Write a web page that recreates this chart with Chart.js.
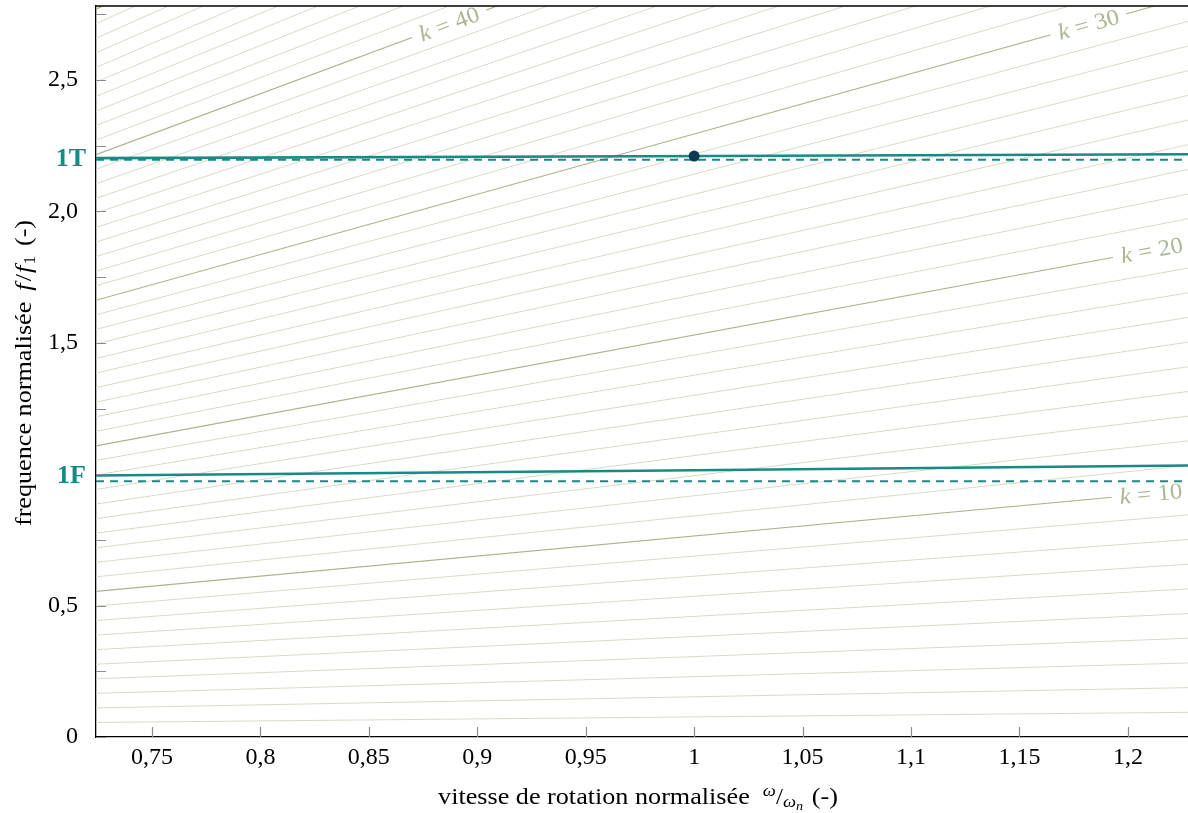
<!DOCTYPE html>
<html>
<head>
<meta charset="utf-8">
<script src="https://cdn.jsdelivr.net/npm/chart.js@4.4.0/dist/chart.umd.min.js"></script>
<style>
html, body { margin: 0; padding: 0; background: #fff; }
</style>
</head>
<body>
<canvas id="myChart" width="1188" height="813"></canvas>
<script>
// axis ranges
var xMin = 0.7242, xMax = 1.2277;
var yMin = 0, yMax = 2.782;

// tick values and labels
var xTicks = [0.75, 0.8, 0.85, 0.9, 0.95, 1, 1.05, 1.1, 1.15, 1.2];
var xTickLabels = ['0,75', '0,8', '0,85', '0,9', '0,95', '1', '1,05', '1,1', '1,15', '1,2'];
var yTicks = [0, 0.25, 0.5, 0.75, 1, 1.25, 1.5, 1.75, 2, 2.25, 2.5, 2.75];
var yTickLabels = ['0', '', '0,5', '', '', '', '1,5', '', '2,0', '', '2,5', ''];

// harmonic orders k (f = slope * k * speed)
var orders = [1, 2, 3, 4, 5, 6, 7, 8, 9, 10, 11, 12, 13, 14, 15, 16, 17, 18, 19, 20,
  21, 22, 23, 24, 25, 26, 27, 28, 29, 30, 31, 32, 33, 34, 35, 36, 37, 38, 39, 40,
  41, 42, 43, 44, 45, 46, 47, 48, 49, 50];
var orderSlope = 0.0765;
var labelledOrders = [10, 20, 30, 40];
var labelSpeed = [1.2106, 1.211, 1.1818, 0.887];

// modes
var speed = [0.7242, 0.976, 1.2277];
var mode1F = [0.995, 1.013, 1.033];
var mode1T = [2.203, 2.210, 2.218];
var rest1F = 0.973;
var rest1T = 2.197;
var opSpeed = [1.0];
var opFreq = [2.211];

var teal = '#178a85';
var serif = '"Liberation Serif", "Times New Roman", serif';

function pts(xs, ys) {
  return xs.map(function (x, i) { return { x: x, y: ys[i] }; });
}

var datasets = [];
datasets.push({
  data: pts(opSpeed, opFreq), showLine: false, pointRadius: 5.5, pointHoverRadius: 5.5,
  pointBackgroundColor: '#0d3a50', pointBorderWidth: 0, order: 0
});
datasets.push({ data: pts(speed, mode1F), showLine: true, borderColor: teal, borderWidth: 2.6, pointRadius: 0, order: 1 });
datasets.push({ data: pts(speed, mode1T), showLine: true, borderColor: teal, borderWidth: 2.6, pointRadius: 0, order: 1 });
datasets.push({ data: pts([xMin, xMax], [rest1F, rest1F]), showLine: true, borderColor: teal, borderWidth: 2, borderDash: [8, 6], pointRadius: 0, order: 1 });
datasets.push({ data: pts([xMin, xMax], [rest1T, rest1T]), showLine: true, borderColor: teal, borderWidth: 2, borderDash: [8, 6], pointRadius: 0, order: 1 });
orders.forEach(function (k) {
  datasets.push({
    data: pts([xMin, xMax], [orderSlope * k * xMin, orderSlope * k * xMax]),
    showLine: true, pointRadius: 0, order: 2,
    borderColor: k % 10 === 0 ? '#a6b58b' : '#d5dcc6',
    borderWidth: k % 10 === 0 ? 1.1 : 1
  });
});

// draw a run of text pieces, stretched a little to look like the LaTeX font
function drawParts(ctx, parts, x, y, sx) {
  ctx.save();
  ctx.translate(x, y);
  ctx.scale(sx, 1);
  var cx = 0;
  parts.forEach(function (p) {
    ctx.font = p.f;
    ctx.fillText(p.t, cx, p.dy || 0);
    cx += ctx.measureText(p.t).width + (p.gap || 0);
  });
  ctx.restore();
}
function partsWidth(ctx, parts, sx) {
  var w = 0;
  parts.forEach(function (p) { ctx.font = p.f; w += ctx.measureText(p.t).width + (p.gap || 0); });
  return w * sx;
}

var decorations = {
  id: 'decorations',
  afterDatasetsDraw: function (chart) {
    var ctx = chart.ctx, area = chart.chartArea;
    var xs = chart.scales.x, ys = chart.scales.y;
    ctx.save();

    // order labels on the lines
    labelledOrders.forEach(function (k, i) {
      var sx = labelSpeed[i];
      var px = xs.getPixelForValue(sx), py = ys.getPixelForValue(orderSlope * k * sx);
      var p2x = xs.getPixelForValue(sx + 0.05), p2y = ys.getPixelForValue(orderSlope * k * (sx + 0.05));
      var ang = Math.atan2(p2y - py, p2x - px);
      var parts = [
        { t: 'k', f: 'italic 23px ' + serif, gap: 6 },
        { t: '=', f: '23px ' + serif, gap: 6 },
        { t: String(k), f: '23px ' + serif }
      ];
      var w = partsWidth(ctx, parts, 1.08);
      ctx.save();
      ctx.translate(px, py);
      ctx.rotate(ang);
      ctx.fillStyle = '#fff';
      ctx.fillRect(-w / 2 - 8, -8, w + 16, 16);
      ctx.fillStyle = '#a9b891';
      ctx.textBaseline = 'alphabetic';
      drawParts(ctx, parts, -w / 2, 7.5, 1.08);
      ctx.restore();
    });

    // inner tick marks
    ctx.strokeStyle = '#8c8c8c';
    ctx.lineWidth = 1.2;
    ctx.beginPath();
    xTicks.forEach(function (v) {
      var p = Math.round(xs.getPixelForValue(v)) + 0.5;
      ctx.moveTo(p, area.bottom); ctx.lineTo(p, area.bottom - 10);
    });
    yTicks.forEach(function (v) {
      var p = Math.round(ys.getPixelForValue(v)) + 0.5;
      ctx.moveTo(area.left, p); ctx.lineTo(area.left + 10, p);
    });
    ctx.stroke();

    // frame top
    ctx.strokeStyle = '#000';
    ctx.lineWidth = 1.3;
    ctx.beginPath();
    ctx.moveTo(area.left, area.top); ctx.lineTo(area.right, area.top);
    ctx.stroke();

    // mode names
    ctx.fillStyle = teal;
    ctx.font = 'bold 26px ' + serif;
    ctx.textAlign = 'right';
    ctx.textBaseline = 'middle';
    ctx.fillText('1T', area.left - 10, ys.getPixelForValue(mode1T[0]) + 1);
    ctx.fillText('1F', area.left - 10, ys.getPixelForValue(mode1F[0]) + 1);

    // axis titles
    ctx.fillStyle = '#000';
    ctx.textAlign = 'left';
    ctx.textBaseline = 'alphabetic';
    var xt = [
      { t: 'vitesse de rotation normalisée', f: '24px ' + serif, gap: 12 },
      { t: 'ω', f: 'italic 17px ' + serif, dy: -8 },
      { t: '/', f: '23px ' + serif },
      { t: 'ω', f: 'italic 17px ' + serif, dy: 3 },
      { t: 'n', f: 'italic 13px ' + serif, dy: 6, gap: 8 },
      { t: '(-)', f: '24px ' + serif }
    ];
    var xw = partsWidth(ctx, xt, 1.09);
    drawParts(ctx, xt, 638 - xw / 2, 804, 1.09);

    var yt = [
      { t: 'frequence normalisée', f: '24px ' + serif, gap: 10 },
      { t: 'f', f: 'italic 24px ' + serif, gap: 2 },
      { t: '/', f: '24px ' + serif, gap: 1 },
      { t: 'f', f: 'italic 24px ' + serif, gap: 1 },
      { t: '1', f: '16px ' + serif, dy: 4, gap: 9 },
      { t: '(-)', f: '24px ' + serif }
    ];
    var yw = partsWidth(ctx, yt, 1.09);
    ctx.save();
    ctx.translate(31, 373);
    ctx.rotate(-Math.PI / 2);
    drawParts(ctx, yt, -yw / 2, 0, 1.09);
    ctx.restore();

    ctx.restore();
  }
};

function noPad(s) {
  s.paddingTop = 0; s.paddingBottom = 0; s.paddingLeft = 0; s.paddingRight = 0;
}

var ctx = document.getElementById('myChart').getContext('2d');
var chart = new Chart(ctx, {
  type: 'scatter',
  data: { datasets: datasets },
  options: {
    responsive: false,
    animation: false,
    devicePixelRatio: 1,
    layout: { autoPadding: false, padding: { top: 6, right: 0, left: 0, bottom: 0 } },
    plugins: { legend: { display: false }, tooltip: { enabled: false } },
    scales: {
      x: {
        type: 'linear', min: xMin, max: xMax,
        afterBuildTicks: function (s) { s.ticks = xTicks.map(function (v) { return { value: v }; }); },
        afterFit: function (s) { s.height = 76; noPad(s); },
        grid: { display: false },
        border: { display: true, color: '#000', width: 1.3 },
        ticks: {
          autoSkip: false, maxRotation: 0, padding: -2, color: '#000',
          font: { family: serif, size: 24 },
          callback: function (v, i) { return xTickLabels[i]; }
        }
      },
      y: {
        type: 'linear', min: yMin, max: yMax,
        afterBuildTicks: function (s) { s.ticks = yTicks.map(function (v) { return { value: v }; }); },
        afterFit: function (s) { s.width = 96; noPad(s); },
        grid: { display: false },
        border: { display: true, color: '#000', width: 1.3 },
        ticks: {
          autoSkip: false, padding: 10, color: '#000',
          font: { family: serif, size: 24 },
          callback: function (v, i) { return yTickLabels[i]; }
        }
      }
    }
  },
  plugins: [decorations]
});
</script>
</body>
</html>
